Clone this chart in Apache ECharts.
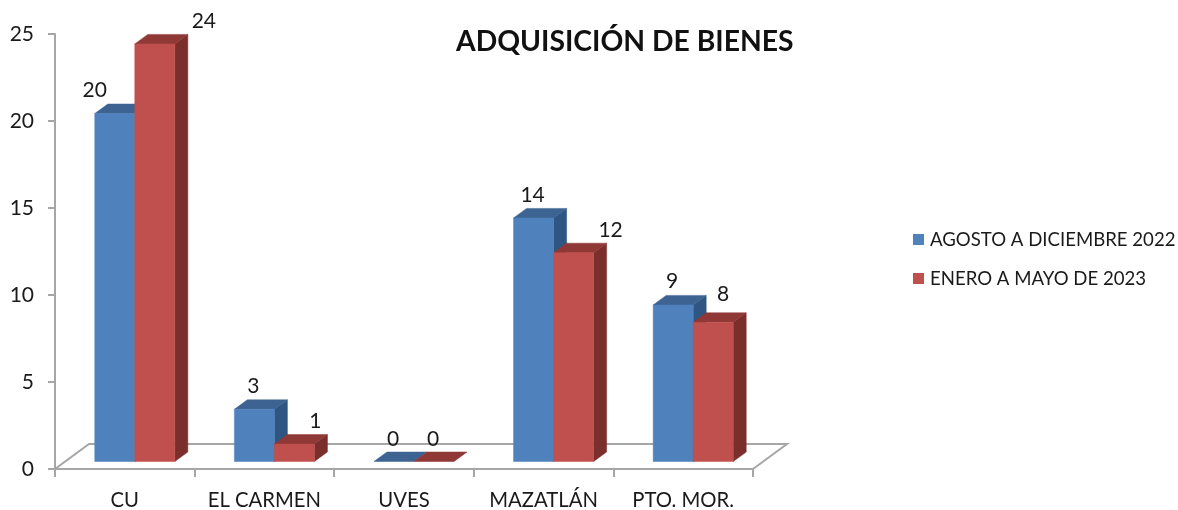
<!DOCTYPE html>
<html>
<head>
<meta charset="utf-8">
<style>html,body{margin:0;padding:0;background:#fff}#c{width:1178px;height:510px}</style>
<script src="https://cdn.jsdelivr.net/npm/echarts@6/dist/echarts.min.js"></script>
</head>
<body>
<div id="c"></div>
<script>
const categories = ['CU', 'EL CARMEN', 'UVES', 'MAZATLÁN', 'PTO. MOR.'];
const seriesNames = ['AGOSTO A DICIEMBRE 2022', 'ENERO A MAYO DE 2023'];
const agosto = [20, 3, 0, 14, 9];
const enero = [24, 1, 0, 12, 8];
const yTicks = [0, 25, 5];

const FONT = 'Lato, sans-serif';
const TEXT = '#1a1a1a';
const AXIS = '#a6a6a6';
const DEPTH_X = 13, DEPTH_Y = 9.5, LIFT = 7.5;
const FLOOR_X = 34, FLOOR_Y = 25;
const BLUE = { front: '#4f81bd', top: '#3c6391', side: '#2f5582' };
const RED = { front: '#c0504d', top: '#8f3836', side: '#7a2f2d' };
// label placement relative to the front face's centre, per series and category
const labelNudgeBlue = [[-20, -23], [-1, -23], [-1, -22], [-1, -23], [-1, -24]];
const labelNudgeRed = [[+49, -23], [+21, -23], [-1, -22], [+37, -22], [+10, -28]];

function barRenderer(col, from, nudges) {
  return function (params, api) {
    const i = api.value(0), v = api.value(1);
    const base = api.coord([i, 0]), top = api.coord([i, v]);
    const w = api.size([1, 0])[0];
    const barW = w * 0.2867;
    const x0 = base[0] + w * from, x1 = x0 + barW;
    const yb = base[1] - LIFT, yt = top[1] - LIFT;
    const n = nudges[i];
    const poly = (pts, fill) => ({ type: 'polygon', shape: { points: pts }, style: { fill: fill, stroke: fill, lineWidth: 0.5 } });
    const kids = [];
    if (v > 0) {
      kids.push(poly([[x1, yt], [x1 + DEPTH_X, yt - DEPTH_Y], [x1 + DEPTH_X, yb - DEPTH_Y], [x1, yb]], col.side));
    }
    kids.push(poly([[x0, yt], [x0 + DEPTH_X, yt - DEPTH_Y], [x1 + DEPTH_X, yt - DEPTH_Y], [x1, yt]], col.top));
    if (v > 0) {
      kids.push({ type: 'rect', shape: { x: x0, y: yt, width: barW, height: yb - yt }, style: { fill: col.front, stroke: col.front, lineWidth: 0.5 } });
    }
    kids.push({
      type: 'text', z2: 50,
      style: { text: String(v), x: (x0 + x1) / 2 + n[0], y: yt + n[1], align: 'center', verticalAlign: 'middle',
        font: '21px ' + FONT, fill: TEXT }
    });
    return { type: 'group', children: kids };
  };
}

function floorRenderer(params, api) {
  const c = params.coordSys;
  const l = c.x, r = c.x + c.width, y = c.y + c.height;
  return {
    type: 'polyline',
    shape: { points: [[l, y], [l + FLOOR_X, y - FLOOR_Y], [r + FLOOR_X, y - FLOOR_Y], [r, y]] },
    style: { fill: null, stroke: AXIS, lineWidth: 2 }
  };
}

const chart = echarts.init(document.getElementById('c'), null, { renderer: 'canvas' });
chart.setOption({
  animation: false,
  backgroundColor: '#fff',
  title: {
    text: 'ADQUISICIÓN DE BIENES', left: 451, top: 23,
    textStyle: { fontFamily: FONT, fontSize: 28.3, fontWeight: 'bold', color: '#111' }
  },
  legend: {
    orient: 'vertical', left: 908, top: 225, itemWidth: 11, itemHeight: 11, itemGap: 20,
    icon: 'rect', data: seriesNames,
    textStyle: { fontFamily: FONT, fontSize: 18.6, color: TEXT, padding: [0, 0, 0, 1] }
  },
  grid: { left: 55, right: 425, top: 34, bottom: 41 },
  xAxis: {
    type: 'category', data: categories, boundaryGap: true,
    axisLine: { lineStyle: { color: AXIS, width: 2 } },
    axisTick: { show: true, length: 8, lineStyle: { color: AXIS, width: 2 } },
    axisLabel: { fontFamily: FONT, fontSize: 20.3, color: TEXT, margin: 21, interval: 0 }
  },
  yAxis: {
    type: 'value', min: yTicks[0], max: yTicks[1], interval: yTicks[2],
    splitLine: { show: false },
    axisLine: { show: true, lineStyle: { color: AXIS, width: 2 } },
    axisTick: { show: true, length: 7, lineStyle: { color: AXIS, width: 2 } },
    axisLabel: { fontFamily: FONT, fontSize: 21, color: TEXT, margin: 21, padding: [2, 0, 0, 0] }
  },
  series: [
    { type: 'custom', name: '_floor', silent: true, z: 1, renderItem: floorRenderer, data: [[0, 0]] },
    { type: 'custom', name: seriesNames[0], z: 2, itemStyle: { color: BLUE.front }, renderItem: barRenderer(BLUE, -0.2151, labelNudgeBlue),
      encode: { x: 0, y: 1 }, data: agosto.map((v, i) => [i, v]) },
    { type: 'custom', name: seriesNames[1], z: 3, itemStyle: { color: RED.front }, renderItem: barRenderer(RED, 0.0716, labelNudgeRed),
      encode: { x: 0, y: 1 }, data: enero.map((v, i) => [i, v]) }
  ]
});
</script>
</body>
</html>
